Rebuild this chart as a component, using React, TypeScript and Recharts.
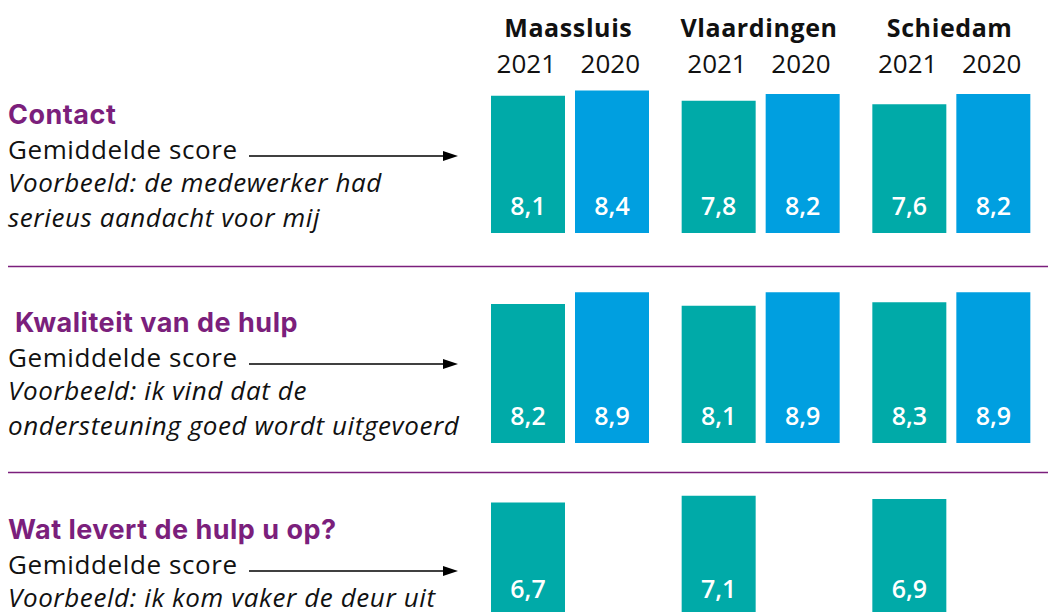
import { BarChart, Bar, XAxis, YAxis, LabelList } from 'recharts';

const cities = ['Maassluis', 'Vlaardingen', 'Schiedam'];
const years = ['2021', '2020'];

const contact2021 = [8.1, 7.8, 7.6];
const contact2020 = [8.4, 8.2, 8.2];
const kwaliteit2021 = [8.2, 8.1, 8.3];
const kwaliteit2020 = [8.9, 8.9, 8.9];
const opbrengst2021 = [6.7, 7.1, 6.9];
const opbrengst2020: (number | null)[] = [null, null, null];

const rows = [
  {
    title: 'Contact',
    titleX: 8,
    example: ['Voorbeeld: de medewerker had', 'serieus aandacht voor mij'],
    v2021: contact2021,
    v2020: contact2020,
  },
  {
    title: 'Kwaliteit van de hulp',
    titleX: 15,
    example: ['Voorbeeld: ik vind dat de', 'ondersteuning goed wordt uitgevoerd'],
    v2021: kwaliteit2021,
    v2020: kwaliteit2020,
  },
  {
    title: 'Wat levert de hulp u op?',
    titleX: 8,
    example: ['Voorbeeld: ik kom vaker de deur uit'],
    v2021: opbrengst2021,
    v2020: opbrengst2020,
  },
];

// layout
const W = 1048;
const H = 612;
const CHART_LEFT = 475;
const CHART_W = 572;
const CHART_H = 160;
const PX_PER_UNIT = 16.95;
const BAR = 74;
const GAP = 10;
const rowBottoms = [233, 442.5, 615.5];
const titleBaselines = [124, 332, 539];
const separators = [266.5, 472.5];

const TEAL = '#00aaa8';
const BLUE = '#009fe0';
const PURPLE = '#7b1f7c';
const SANS = '"Open Sans", "Noto Sans", sans-serif';
const TITLE_FONT = 'Inter, "Open Sans", sans-serif';

const fmt = (v: number) => v.toFixed(1).replace('.', ',');

const band = CHART_W / cities.length;
const groupCenter = (i: number) => CHART_LEFT + band * (i + 0.5);

const ValueLabel = (props: any) => {
  const { x, y, width, height, value } = props;
  if (value == null) return null;
  return (
    <text
      x={x + width / 2}
      y={y + height - 28}
      fill="#fff"
      fontSize={25}
      fontWeight={600}
      fontFamily={SANS}
      textAnchor="middle"
      dominantBaseline="central"
    >
      {fmt(value)}
    </text>
  );
};

function RowChart({ v2021, v2020, bottom }: { v2021: number[]; v2020: (number | null)[]; bottom: number }) {
  const data = cities.map((c, i) => ({ city: c, y2021: v2021[i], y2020: v2020[i] }));
  return (
    <div style={{ position: 'absolute', left: CHART_LEFT, top: bottom - CHART_H }}>
      <BarChart
        width={CHART_W}
        height={CHART_H}
        data={data}
        margin={{ top: 0, right: 0, bottom: 0, left: 0 }}
        barSize={BAR}
        barGap={GAP}
      >
        <XAxis dataKey="city" hide />
        <YAxis hide domain={[0, CHART_H / PX_PER_UNIT]} />
        <Bar dataKey="y2021" fill={TEAL} isAnimationActive={false}>
          <LabelList dataKey="y2021" content={ValueLabel} />
        </Bar>
        <Bar dataKey="y2020" fill={BLUE} isAnimationActive={false}>
          <LabelList dataKey="y2020" content={ValueLabel} />
        </Bar>
      </BarChart>
    </div>
  );
}

function Arrow({ y }: { y: number }) {
  return (
    <g>
      <line x1={249} x2={446} y1={y} y2={y} stroke="#000" strokeWidth={1.5} />
      <polygon points={`443,${y - 5} 458,${y} 443,${y + 5}`} fill="#000" />
    </g>
  );
}

export default function App() {
  const barOffset = (band - (2 * BAR + GAP)) / 2;
  return (
    <div style={{ position: 'absolute', left: 0, top: 0, width: W, height: H, overflow: 'hidden', background: '#fff' }}>
      <svg width={W} height={H} style={{ position: 'absolute', left: 0, top: 0 }}>
        {cities.map((c, i) => (
          <text
            key={c}
            x={groupCenter(i) - 2}
            y={37}
            textAnchor="middle"
            fontSize={25}
            fontWeight={700}
            letterSpacing={0.6}
            fontFamily={SANS}
            fill="#111"
          >
            {c}
          </text>
        ))}
        {cities.map((c, i) =>
          years.map((yr, j) => (
            <text
              key={c + yr}
              x={CHART_LEFT + band * i + barOffset + j * (BAR + GAP) + BAR / 2 - 2}
              y={73}
              textAnchor="middle"
              fontSize={26}
              fontFamily={SANS}
              fill="#111"
            >
              {yr}
            </text>
          ))
        )}
        {rows.map((r, i) => {
          const tb = titleBaselines[i];
          return (
            <g key={r.title}>
              <text x={r.titleX} y={tb} fontSize={27} fontWeight={700} letterSpacing={0.5} fontFamily={TITLE_FONT} fill={PURPLE}>
                {r.title}
              </text>
              <text x={8} y={tb + 34.5} fontSize={26} letterSpacing={0.6} fontFamily={SANS} fill="#111">
                Gemiddelde score
              </text>
              <Arrow y={tb + 32} />
              {r.example.map((line, k) => (
                <text
                  key={k}
                  x={8}
                  y={tb + 68 + k * 35}
                  fontSize={26}
                  letterSpacing={0.6}
                  fontStyle="italic"
                  fontFamily={SANS}
                  fill="#111"
                >
                  {line}
                </text>
              ))}
            </g>
          );
        })}
        {separators.map((y) => (
          <line key={y} x1={8} x2={W} y1={y} y2={y} stroke={PURPLE} strokeWidth={1.5} />
        ))}
      </svg>
      {rows.map((r, i) => (
        <RowChart key={r.title} v2021={r.v2021} v2020={r.v2020} bottom={rowBottoms[i]} />
      ))}
    </div>
  );
}
